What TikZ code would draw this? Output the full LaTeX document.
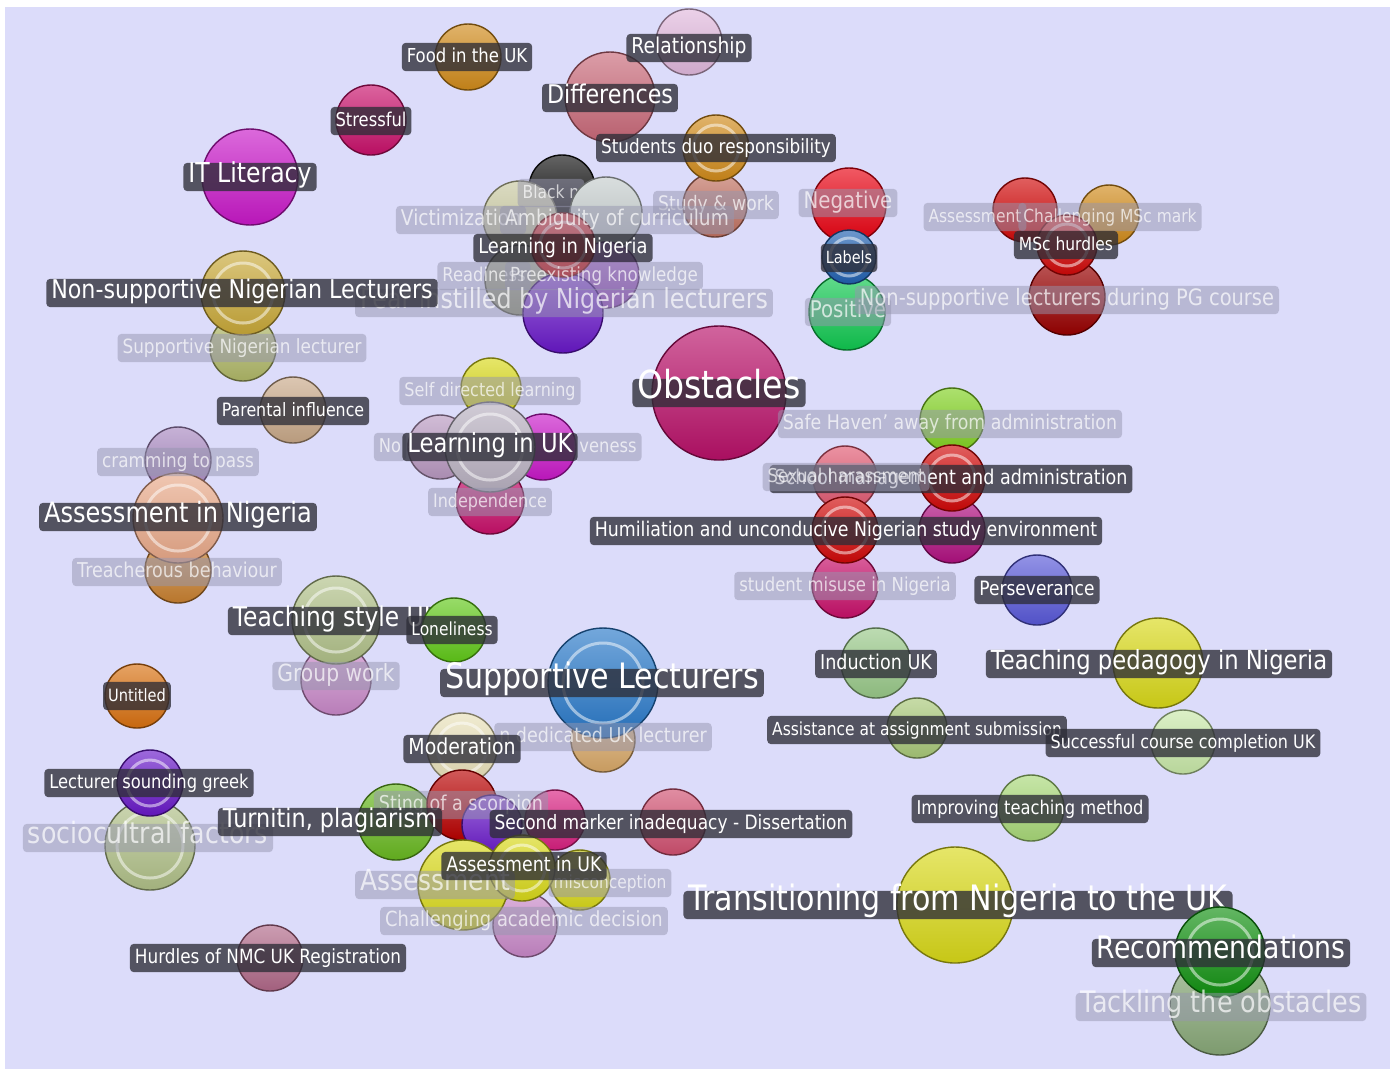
\documentclass[tikz,border=0pt]{standalone}
\usepackage{fontspec}
\setmainfont{DejaVu Sans}[FakeStretch=0.86]
\usetikzlibrary{positioning}

\definecolor{bgc}{RGB}{220,220,250}
\definecolor{lbld}{RGB}{45,45,55}
\definecolor{lblf}{RGB}{150,150,175}
\definecolor{cOrange}{HTML}{D08A1A}
\definecolor{cPinkL}{HTML}{E0B8DC}
\definecolor{cRose}{HTML}{C86878}
\definecolor{cCrim}{HTML}{C8106A}
\definecolor{cMagen}{HTML}{C818C8}
\definecolor{cBrown}{HTML}{C07060}
\definecolor{cBlack}{HTML}{111111}
\definecolor{cKhaki}{HTML}{C8C8A0}
\definecolor{cGrey}{HTML}{C4CCCC}
\definecolor{cRed}{HTML}{D00808}
\definecolor{cOlive}{HTML}{989C80}
\definecolor{cPurp}{HTML}{9848C8}
\definecolor{cViolet}{HTML}{6818C8}
\definecolor{cGold}{HTML}{C8A838}
\definecolor{cSage}{HTML}{B0B868}
\definecolor{cTan}{HTML}{C8A888}
\definecolor{cYell}{HTML}{D8D818}
\definecolor{cMist}{HTML}{B8B0C0}
\definecolor{cLilac}{HTML}{B898C0}
\definecolor{cRasp}{HTML}{B81068}
\definecolor{cLav}{HTML}{A888C0}
\definecolor{cPeach}{HTML}{E8A888}
\definecolor{cOchre}{HTML}{C88030}
\definecolor{cLime}{HTML}{80D020}
\definecolor{cSalm}{HTML}{E05870}
\definecolor{cPlum}{HTML}{B01080}
\definecolor{cIndigo}{HTML}{5858D8}
\definecolor{cFern}{HTML}{B0C088}
\definecolor{cGrass}{HTML}{60C818}
\definecolor{cOrchid}{HTML}{C888C8}
\definecolor{cAmber}{HTML}{D87010}
\definecolor{cBlue}{HTML}{2878C8}
\definecolor{cSand}{HTML}{D8A868}
\definecolor{cCream}{HTML}{E8E0B8}
\definecolor{cMoss}{HTML}{68B820}
\definecolor{cBlood}{HTML}{B80000}
\definecolor{cCherry}{HTML}{D82080}
\definecolor{cPinkD}{HTML}{D05070}
\definecolor{cMauve}{HTML}{B06888}
\definecolor{cMint}{HTML}{98C888}
\definecolor{cLeaf}{HTML}{A8C878}
\definecolor{cPale}{HTML}{C8E8A8}
\definecolor{cApple}{HTML}{A8D878}
\definecolor{cForest}{HTML}{109010}
\definecolor{cSeaw}{HTML}{88A878}
\definecolor{cScarl}{HTML}{E80010}
\definecolor{cNavy}{HTML}{2060B0}
\definecolor{cEmer}{HTML}{10C850}
\definecolor{cMaroon}{HTML}{980000}

\newcommand\fz[1]{\fontsize{#1}{#1}\selectfont}

\tikzset{
  bub/.style 2 args={circle,inner sep=0pt,minimum size=#2pt,draw=#1!55!black,line width=0.7pt,
    top color=#1!65!white,bottom color=#1!92!black},
  ringln/.style={white,opacity=0.5,line width=1.5pt},
  lbl/.style={fill=lbld,fill opacity=0.78,text opacity=1,text=white,rounded corners=2pt,
    inner xsep=0.25em,inner ysep=0.25em,text height=0.72em,text depth=0.2em,font=\fz{#1}},
  fad/.style={fill=lblf,fill opacity=0.5,text=white,text opacity=0.7,rounded corners=2pt,
    inner xsep=0.25em,inner ysep=0.25em,text height=0.72em,text depth=0.2em,font=\fz{#1}},
}

\begin{document}
\begin{tikzpicture}[x=0.5pt,y=-0.5pt]
\useasboundingbox (0,0) rectangle (1397,1073);
\fill[white] (0,0) rectangle (1397,1073);
\fill[bgc] (5,7) rectangle (1390,1069);

\node[bub={cPinkL}{33}] (relat) at (689,42) {};
\node[bub={cRose}{45}] (diffs) at (610,97) {};
\node[bub={cOrange}{33}] (food) at (468,57) {};
\node[bub={cCrim}{35}] (stress) at (371,120) {};
\node[bub={cMagen}{48}] (itlit) at (250,177) {};
\node[bub={cBrown}{32}] (study) at (715,205) {};
\node[bub={cOrange}{33}] (duo) at (716,148) {};
\draw[ringln] (duo.center) circle (23);
\node[bub={cBlack}{33}] (black) at (562,188) {};
\node[bub={cKhaki}{37}] (victim) at (520,218) {};
\node[fad=9] (tblack) at (551,193) {Black n};
\node[bub={cGrey}{36}] (ambig) at (606,213) {};
\node[bub={cOlive}{35}] (readi) at (520,280) {};
\node[bub={cPurp}{33}] (prexk) at (606,275) {};
\node[bub={cViolet}{40}] (fear) at (563,313) {};
\node[bub={cRed}{32}] (lnig) at (563,245) {};
\draw[ringln] (lnig.center) circle (23);
\node[bub={cSage}{33}] (supnig) at (243,348) {};
\node[bub={cGold}{42}] (nonsup) at (243,293) {};
\draw[ringln] (nonsup.center) circle (30);
\node[bub={cTan}{33}] (parent) at (293,410) {};
\node[bub={cYell}{30}] (selfdir) at (491,388) {};
\node[bub={cLilac}{32}] (nolbl) at (440,447) {};
\node[bub={cMagen}{33}] (assert) at (543,447) {};
\node[bub={cCrim}{34}] (indep) at (490,500) {};
\node[bub={cMist}{45}] (luk) at (490,447) {};
\draw[ringln] (luk.center) circle (33);
\node[bub={cRasp}{67}] (obst) at (719,393) {};
\node[bub={cLav}{33}] (cram) at (178,460) {};
\node[bub={cOchre}{33}] (treach) at (178,570) {};
\node[bub={cPeach}{45}] (anig) at (178,518) {};
\draw[ringln] (anig.center) circle (33);
\node[bub={cScarl}{37}] (negat) at (849,205) {};
\node[bub={cEmer}{38}] (posit) at (847,312) {};
\node[bub={cNavy}{27}] (labels) at (849,257) {};
\draw[ringln] (labels.center) circle (19);
\node[bub={cRed}{32}] (assmsc) at (1025,210) {};
\node[bub={cOrange}{30}] (chalms) at (1109,215) {};
\node[bub={cMaroon}{38}] (nslpg) at (1067,297) {};
\node[bub={cRed}{30}] (mschur) at (1067,245) {};
\draw[ringln] (mschur.center) circle (21);
\node[bub={cLime}{32}] (haven) at (952,420) {};
\node[bub={cSalm}{32}] (sexhar) at (845,478) {};
\node[bub={cPlum}{33}] (magen) at (952,530) {};
\node[bub={cCrim}{33}] (misuse) at (845,585) {};
\node[bub={cRed}{33}] (school) at (952,478) {};
\draw[ringln] (school.center) circle (23);
\node[bub={cRed}{33}] (humil) at (845,530) {};
\draw[ringln] (humil.center) circle (23);
\node[bub={cIndigo}{35}] (perse) at (1037,590) {};
\node[bub={cOrchid}{35}] (group) at (336,680) {};
\node[bub={cFern}{44}] (tstyle) at (336,620) {};
\draw[ringln] (tstyle.center) circle (32);
\node[lbl=13.6] (ttstyle) at (336,621) {Teaching style UK};
\node[bub={cGrass}{32}] (lonely) at (454,630) {};
\node[bub={cAmber}{32}] (untit) at (137,696) {};
\node[bub={cSand}{32}] (dedic) at (603,740) {};
\node[bub={cBlue}{55}] (suplec) at (603,683) {};
\draw[ringln] (suplec.center) circle (40);
\node[bub={cCream}{35}] (moder) at (462,748) {};
\draw[ringln] (moder.center) circle (25);
\node[bub={cFern}{45}] (socio) at (150,845) {};
\draw[ringln] (socio.center) circle (33);
\node[bub={cViolet}{33}] (greek) at (150,783) {};
\draw[ringln] (greek.center) circle (23);
\node[bub={cMoss}{38}] (turnit) at (396,822) {};
\node[bub={cBlood}{35}] (sting) at (462,805) {};
\node[bub={cViolet}{30}] (purp) at (492,825) {};
\node[bub={cCherry}{30}] (cherry) at (555,820) {};
\node[bub={cPinkD}{33}] (second) at (673,822) {};
\node[bub={cOrchid}{32}] (challen) at (525,925) {};
\node[bub={cYell}{45}] (asssub) at (463,885) {};
\node[bub={cYell}{30}] (miscon) at (580,880) {};
\node[bub={cYell}{33}] (auk) at (522,868) {};
\draw[ringln] (auk.center) circle (23);
\node[bub={cMauve}{33}] (nmc) at (270,958) {};
\node[bub={cMint}{35}] (induc) at (876,663) {};
\node[bub={cYell}{45}] (pedag) at (1158,663) {};
\node[bub={cLeaf}{30}] (assist) at (917,728) {};
\node[bub={cPale}{32}] (succ) at (1183,742) {};
\node[bub={cApple}{33}] (improv) at (1031,808) {};
\node[bub={cYell}{58}] (trans) at (955,905) {};
\node[lbl=17.5] (ttrans) at (958,905) {Transitioning from Nigeria to the UK};
\node[bub={cSeaw}{50}] (tackl) at (1220,1005) {};
\node[bub={cForest}{45}] (recom) at (1220,952) {};
\draw[ringln] (recom.center) circle (33);

\node[fad=10] (tstudy) at (716,205) {Study \& work};
\node[fad=10.8] (tvictim) at (461,220) {Victimization};
\node[fad=10.8] (tambig) at (617,220) {Ambiguity of curriculum};
\node[fad=9.5] (treadi) at (484,276) {Readiness};
\node[fad=9.7] (tprexk) at (604,276) {Preexisting knowledge};
\node[fad=13.8] (tfear) at (564,303) {Fear instilled by Nigerian lecturers};
\node[fad=9.8] (tsupnig) at (242,348) {Supportive Nigerian lecturer};
\node[fad=9.3] (tselfdir) at (490,391) {Self directed learning};
\node[fad=9.5] (tnolbl) at (390,447) {No};
\node[fad=9.5] (tassert) at (608,447) {veness};
\node[fad=9.3] (tindep) at (490,502) {Independence};
\node[fad=9.8] (tcram) at (178,462) {cramming to pass};
\node[fad=10.2] (ttreach) at (177,572) {Treacherous behaviour};
\node[fad=10.1] (thaven) at (950,424) {Safe Haven' away from administration};
\node[fad=9.6] (tmisuse) at (845,586) {student misuse in Nigeria};
\node[fad=11.8] (tgroup) at (336,676) {Group work};
\node[fad=10.2] (tdedic) at (603,737) {n dedicated UK lecturer};
\node[fad=14.7] (tsocio) at (148,838) {sociocultral factors};
\node[fad=10.2] (tsting) at (461,805) {Sting of a scorpion};
\node[fad=14.5] (tasssub) at (435,885) {Assessment};
\node[fad=9] (tmiscon) at (610,883) {misconception};
\node[fad=10.4] (tchallen) at (524,921) {Challenging academic decision};
\node[fad=14.8] (ttackl) at (1221,1007) {Tackling the obstacles};
\node[fad=11.5] (tnegat) at (848,203) {Negative};
\node[fad=11.5] (tposit) at (848,312) {Positive};
\node[fad=11.3] (tnslpg) at (1067,300) {Non-supportive lecturers during PG course};
\node[fad=9] (tassmsc) at (975,217) {Assessment};
\node[fad=9] (tchalms) at (1110,217) {Challenging MSc mark};

\node[lbl=9.6] (tfood) at (467,57) {Food in the UK};
\node[lbl=10.9] (trelat) at (689,48) {Relationship};
\node[lbl=12.9] (tdiffs) at (610,98) {Differences};
\node[lbl=9.5] (tstress) at (371,121) {Stressful};
\node[lbl=13.7] (titlit) at (250,177) {IT Literacy};
\node[lbl=9.8] (tduo) at (716,148) {Students duo responsibility};
\node[lbl=10.4] (tlnig) at (563,248) {Learning in Nigeria};
\node[lbl=12.9] (tnonsup) at (242,293) {Non-supportive Nigerian Lecturers};
\node[lbl=9.2] (tparent) at (293,411) {Parental influence};
\node[lbl=13.2] (tluk) at (490,447) {Learning in UK};
\node[lbl=19.3] (tobst) at (719,393) {Obstacles};
\node[lbl=14] (tanig) at (178,517) {Assessment in Nigeria};
\node[lbl=10.2] (tschool) at (951,479) {School management and administration};
\node[fad=9.5] (tsexhar) at (846,477) {Sexual harassment};
\node[lbl=10.1] (thumil) at (846,531) {Humiliation and unconducive Nigerian study environment};
\node[lbl=9.9] (tperse) at (1037,590) {Perseverance};
\node[lbl=9] (tlonely) at (452,630) {Loneliness};
\node[lbl=8.5] (tuntit) at (137,696) {Untitled};
\node[lbl=17.5] (tsuplec) at (602,683) {Supportive Lecturers};
\node[lbl=11] (tmoder) at (462,749) {Moderation};
\node[lbl=9.5] (tgreek) at (149,783) {Lecturer sounding greek};
\node[lbl=13] (tturnit) at (330,822) {Turnitin, plagiarism};
\node[lbl=9.9] (tsecond) at (671,824) {Second marker inadequacy - Dissertation};
\node[lbl=10.1] (tauk) at (524,866) {Assessment in UK};
\node[lbl=9.8] (tnmc) at (268,958) {Hurdles of NMC UK Registration};
\node[lbl=10.2] (tinduc) at (876,664) {Induction UK};
\node[lbl=13.2] (tpedag) at (1159,664) {Teaching pedagogy in Nigeria};
\node[lbl=9] (tassist) at (917,730) {Assistance at assignment submission};
\node[lbl=9.3] (tsucc) at (1183,743) {Successful course completion UK};
\node[lbl=9.5] (timprov) at (1030,809) {Improving teaching method};
\node[lbl=15.5] (trecom) at (1221,953) {Recommendations};
\node[lbl=8.4] (tlabels) at (849,258) {Labels};
\node[lbl=9] (tmschur) at (1066,245) {MSc hurdles};
\end{tikzpicture}
\end{document}
